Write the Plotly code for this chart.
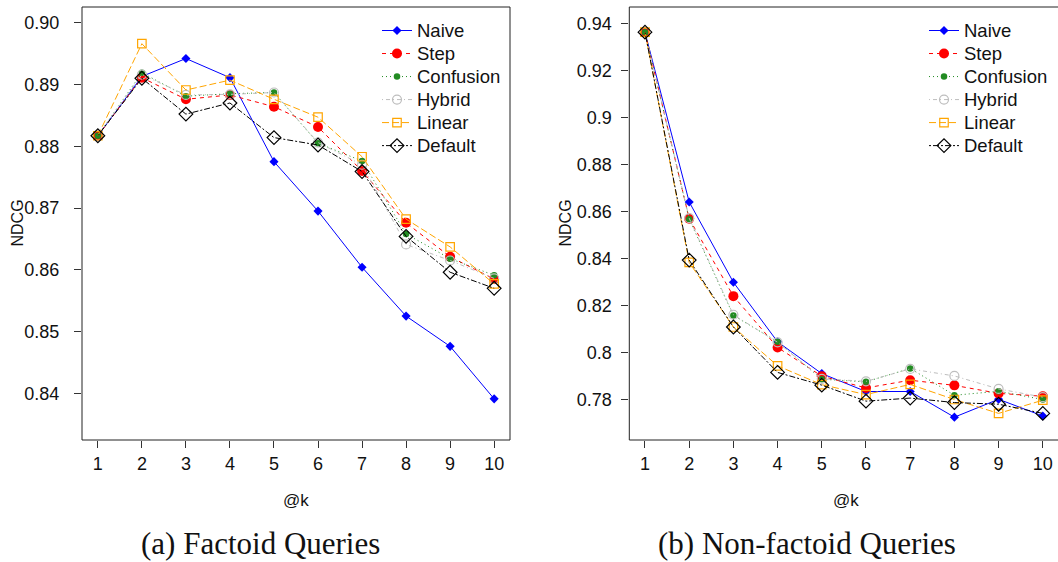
import plotly.graph_objects as go

# ---- data -------------------------------------------------------------
k_values = [1, 2, 3, 4, 5, 6, 7, 8, 9, 10]
series_names = ["Naive", "Step", "Confusion", "Hybrid", "Linear", "Default"]

factoid_naive = [0.8817, 0.8913, 0.8942, 0.8911, 0.8775, 0.8695, 0.8604, 0.8525, 0.8476, 0.8391]
factoid_step = [0.8817, 0.8911, 0.8876, 0.8883, 0.8864, 0.8831, 0.8760, 0.8676, 0.8621, 0.8585]
factoid_confusion = [0.8817, 0.8919, 0.8881, 0.8885, 0.8887, 0.8805, 0.8776, 0.8658, 0.8618, 0.8591]
factoid_hybrid = [0.8817, 0.8916, 0.8883, 0.8884, 0.8887, 0.8806, 0.8770, 0.8641, 0.8615, 0.8586]
factoid_linear = [0.8817, 0.8966, 0.8891, 0.8907, 0.8876, 0.8847, 0.8783, 0.8682, 0.8637, 0.8577]
factoid_default = [0.8817, 0.8910, 0.8852, 0.8870, 0.8814, 0.8802, 0.8759, 0.8654, 0.8596, 0.8570]

nonfactoid_naive = [0.9362, 0.8641, 0.8300, 0.8047, 0.7912, 0.7836, 0.7836, 0.7727, 0.7803, 0.7732]
nonfactoid_step = [0.9362, 0.8570, 0.8241, 0.8023, 0.7901, 0.7851, 0.7884, 0.7862, 0.7828, 0.7816]
nonfactoid_confusion = [0.9362, 0.8568, 0.8159, 0.8047, 0.7888, 0.7877, 0.7934, 0.7820, 0.7837, 0.7802]
nonfactoid_hybrid = [0.9362, 0.8572, 0.8162, 0.8045, 0.7890, 0.7879, 0.7932, 0.7902, 0.7847, 0.7812]
nonfactoid_linear = [0.9362, 0.8384, 0.8110, 0.7945, 0.7865, 0.7823, 0.7866, 0.7802, 0.7743, 0.7799]
nonfactoid_default = [0.9362, 0.8394, 0.8110, 0.7917, 0.7863, 0.7795, 0.7808, 0.7789, 0.7782, 0.7743]

factoid_ticks = [0.84, 0.85, 0.86, 0.87, 0.88, 0.89, 0.90]
factoid_ticktext = ["0.84", "0.85", "0.86", "0.87", "0.88", "0.89", "0.90"]
nonfactoid_ticks = [0.78, 0.80, 0.82, 0.84, 0.86, 0.88, 0.90, 0.92, 0.94]
nonfactoid_ticktext = ["0.78", "0.8", "0.82", "0.84", "0.86", "0.88", "0.9", "0.92", "0.94"]

factoid_data = [factoid_naive, factoid_step, factoid_confusion,
                factoid_hybrid, factoid_linear, factoid_default]
nonfactoid_data = [nonfactoid_naive, nonfactoid_step, nonfactoid_confusion,
                   nonfactoid_hybrid, nonfactoid_linear, nonfactoid_default]

# ---- styling ------------------------------------------------------------
W, H = 1058, 562
FONT = "Liberation Sans, Arial, sans-serif"
SERIF = "Liberation Serif, Times New Roman, serif"

styles = {
    "Naive": dict(color="#0000FF", dash="solid", symbol="diamond", size=7),
    "Step": dict(color="#FF0000", dash="4px,4px", symbol="circle", size=10),
    "Confusion": dict(color="#228B22", dash="1px,3px", symbol="circle", size=6.5),
    "Hybrid": dict(color="#BEBEBE", dash="1px,3px,4px,3px", symbol="circle-open", size=9),
    "Linear": dict(color="#FFA500", dash="7px,3px", symbol="square-open", size=8.5),
    "Default": dict(color="#000000", dash="2px,2px,6px,2px", symbol="diamond-open", size=10.5),
}


def px_x(p):
    return p / W


def px_y(p):
    return 1 - p / H


fig = go.Figure()

for data, xa, ya, leg in [
    (factoid_data, "x", "y", "legend"),
    (nonfactoid_data, "x2", "y2", "legend2"),
]:
    for name, vals in zip(series_names, data):
        st = styles[name]
        marker = dict(symbol=st["symbol"], size=st["size"], color=st["color"])
        if st["symbol"].endswith("open"):
            marker["line"] = dict(color=st["color"], width=1.2)
        else:
            marker["line"] = dict(width=0)
        fig.add_trace(go.Scatter(
            x=k_values, y=vals,
            name=f"<span style='font-size:18.5px'>{name}</span>",
            mode="lines+markers",
            line=dict(color=st["color"], width=1, dash=st["dash"]),
            marker=marker, xaxis=xa, yaxis=ya, legend=leg,
        ))

axis_common = dict(
    showgrid=False, zeroline=False, showline=False,
    ticks="outside", ticklen=7, tickwidth=1, tickcolor="#333",
    tickfont=dict(family=FONT, size=18, color="#111"),
)

# panel geometry (pixels)
L_left, L_right, top, bottom = 82, 510, 7, 440
R_left = 629.3

legend_common = dict(
    xanchor="left", yanchor="top", bgcolor="rgba(0,0,0,0)", borderwidth=0,
    tracegroupgap=0, font=dict(family=FONT, size=15.4, color="#111"),
)

fig.update_layout(
    width=W, height=H,
    margin=dict(l=0, r=0, t=0, b=0),
    paper_bgcolor="white", plot_bgcolor="white",
    font=dict(family=FONT, color="#111"),
    xaxis=dict(domain=[px_x(L_left), px_x(L_right)], range=[0.64, 10.36],
               tickvals=k_values, anchor="y", **axis_common),
    yaxis=dict(domain=[px_y(bottom), px_y(top)], range=[0.83244, 0.90254],
               tickvals=factoid_ticks, ticktext=factoid_ticktext,
               anchor="x", ticklabelstandoff=11, **axis_common),
    xaxis2=dict(domain=[px_x(R_left), 1.0], range=[0.645, 10.344],
                tickvals=k_values, anchor="y2", **axis_common),
    yaxis2=dict(domain=[px_y(bottom), px_y(top)], range=[0.7630, 0.9469],
                tickvals=nonfactoid_ticks, ticktext=nonfactoid_ticktext,
                anchor="x2", ticklabelstandoff=6, **axis_common),
    legend=dict(x=px_x(377), y=px_y(14), **legend_common),
    legend2=dict(x=px_x(924), y=px_y(14), **legend_common),
    showlegend=True,
)

# plot frames
fig.add_shape(type="rect", xref="paper", yref="paper",
              x0=px_x(L_left), x1=px_x(L_right), y0=px_y(bottom), y1=px_y(top),
              line=dict(color="#222", width=1))
fig.add_shape(type="rect", xref="paper", yref="paper",
              x0=px_x(R_left), x1=1.02, y0=px_y(bottom), y1=px_y(top),
              line=dict(color="#222", width=1))


def label(x, y, text, size, family=FONT, angle=0):
    fig.add_annotation(x=px_x(x), y=px_y(y), xref="paper", yref="paper",
                       xanchor="center", yanchor="middle", text=text,
                       textangle=angle, showarrow=False,
                       font=dict(family=family, size=size, color="#111"))


# axis titles
for cx, ylab_x in [((L_left + L_right) / 2, 17), ((R_left + 1062) / 2, 565)]:
    label(cx, 500, "@k", 17)
    label(ylab_x, (top + bottom) / 2, "NDCG", 16, angle=-90)

# panel captions
label(260, 543, "(a) Factoid Queries", 31, family=SERIF)
label(807, 543, "(b) Non-factoid Queries", 31, family=SERIF)

fig.write_html("out.html")
